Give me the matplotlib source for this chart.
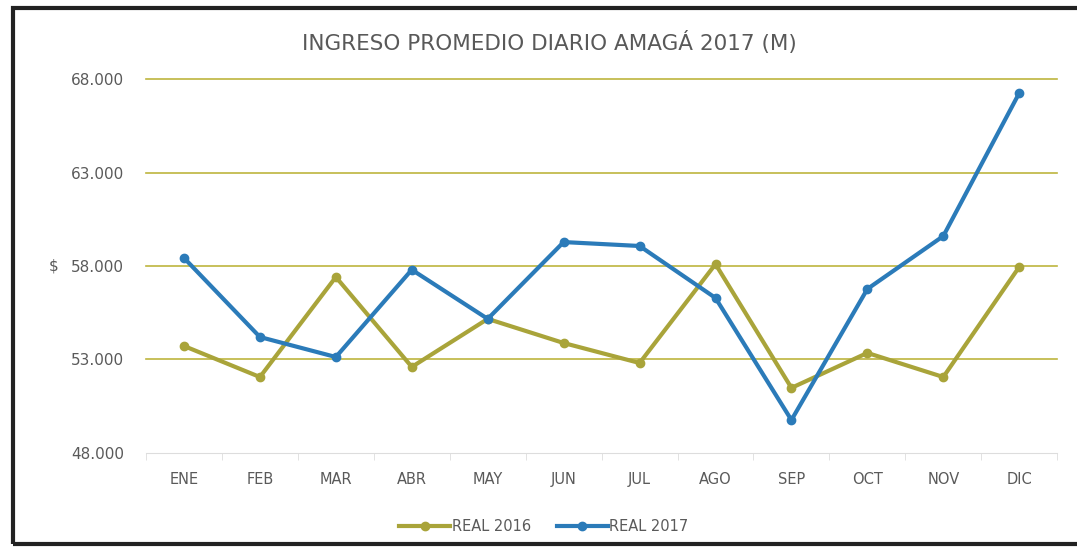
import matplotlib
matplotlib.use('Agg')
import matplotlib.pyplot as plt
from matplotlib.patches import Rectangle
from matplotlib.ticker import FuncFormatter

months = ['ENE', 'FEB', 'MAR', 'ABR', 'MAY', 'JUN', 'JUL', 'AGO', 'SEP', 'OCT', 'NOV', 'DIC']
real_2016 = [53720, 52060, 57410, 52600, 55170, 53880, 52810, 58100, 51480, 53350, 52060, 57950]
real_2017 = [58430, 54200, 53130, 57800, 55170, 59280, 59070, 56290, 49760, 56770, 59600, 67250]
y_ticks = [48000, 53000, 58000, 63000, 68000]

olive = '#a9a43a'
blue = '#2b7bb9'
grid_col = '#bdb53e'
text_col = '#5a5a5a'

plt.rcParams['font.family'] = ['DejaVu Sans']

fig = plt.figure(figsize=(10.77, 5.49), dpi=100)
ax = fig.add_axes([0.1356, 0.175, 0.846, 0.681])

x = list(range(len(months)))
ax.plot(x, real_2016, color=olive, lw=3, marker='o', ms=6, label='REAL 2016', zorder=3)
ax.plot(x, real_2017, color=blue, lw=3, marker='o', ms=6, label='REAL 2017', zorder=4)

ax.set_xlim(-0.5, len(months) - 0.5)
ax.set_ylim(48000, 68000)
ax.set_yticks(y_ticks)
ax.yaxis.set_major_formatter(FuncFormatter(lambda v, p: '{:,.0f}'.format(v).replace(',', '.')))
ax.set_xticks(x)
ax.set_xticklabels(months)
ax.set_xticks([i - 0.5 for i in range(len(months) + 1)], minor=True)

for v in y_ticks[1:]:
    ax.axhline(v, color=grid_col, lw=1.2, zorder=1, clip_on=False)

for s in ['top', 'right', 'left']:
    ax.spines[s].set_visible(False)
ax.spines['bottom'].set_color('#dddddd')
ax.tick_params(axis='y', length=0, pad=16, labelsize=11, labelcolor=text_col)
ax.tick_params(axis='x', which='major', length=0, pad=14, labelsize=10.5, labelcolor=text_col)
ax.tick_params(axis='x', which='minor', length=5, color='#dddddd', direction='out')

ax.set_ylabel('$', rotation=0, fontsize=11, color=text_col, labelpad=12, va='center')
fig.text(0.51, 0.923, 'INGRESO PROMEDIO DIARIO AMAGÁ 2017 (M)', fontsize=15.5,
         color='#595959', ha='center', va='center')

fig.legend(loc='lower center', bbox_to_anchor=(0.505, 0.0), ncol=2, frameon=False,
           fontsize=10.5, labelcolor=text_col, handlelength=3.5, handletextpad=0.1,
           columnspacing=1.8, borderaxespad=0.6)

fig.patches.append(Rectangle((0.012, 0.01), 0.99, 0.975, transform=fig.transFigure,
                             fill=False, edgecolor='#222222', lw=3))

fig.savefig('out.png', dpi=100)
